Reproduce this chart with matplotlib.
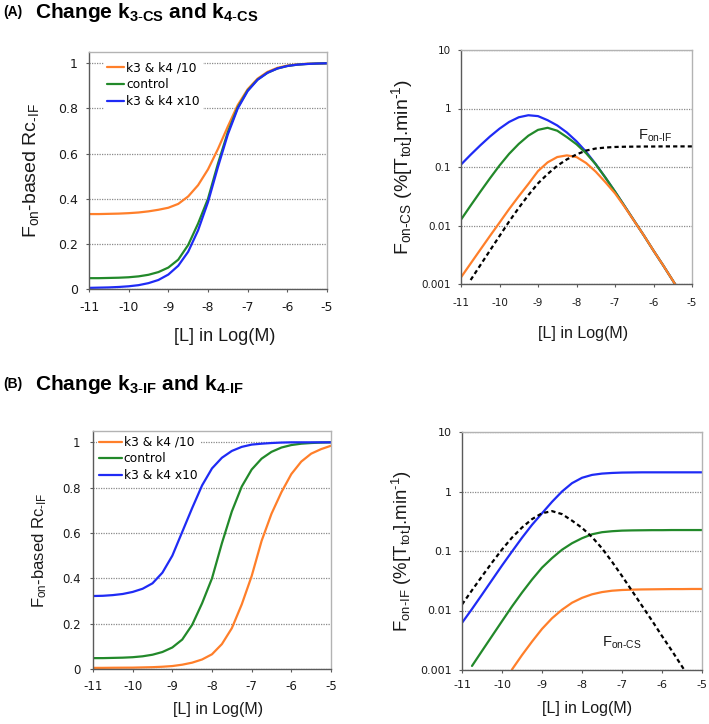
import matplotlib
matplotlib.use('Agg')
import matplotlib.pyplot as plt

plt.rcParams['axes.unicode_minus'] = False
plt.rcParams['mathtext.fontset'] = 'custom'
plt.rcParams['mathtext.rm'] = 'Liberation Sans'
plt.rcParams['mathtext.it'] = 'Liberation Sans:italic'
plt.rcParams['mathtext.bf'] = 'Liberation Sans:bold'
plt.rcParams['mathtext.sf'] = 'Liberation Sans'

# ---------------- data ----------------
log_L = [-11, -10.75, -10.5, -10.25, -10, -9.75, -9.5, -9.25, -9, -8.75, -8.5, -8.25,
         -8, -7.75, -7.5, -7.25, -7, -6.75, -6.5, -6.25, -6, -5.75, -5.5, -5.25, -5]

# Panel A left : Fon-based Rc-IF, changing k3/k4 of CS
rcA_div10 = [0.332, 0.332, 0.333, 0.334, 0.336, 0.339, 0.344, 0.351, 0.36, 0.377, 0.41, 0.46,
             0.53, 0.62, 0.72, 0.815, 0.885, 0.932, 0.962, 0.98, 0.99, 0.995, 0.998, 0.999, 1.0]
rc_control = [0.048, 0.048, 0.049, 0.05, 0.052, 0.056, 0.063, 0.075, 0.095, 0.13, 0.195, 0.29,
              0.40, 0.555, 0.695, 0.805, 0.88, 0.928, 0.958, 0.977, 0.988, 0.994, 0.997, 0.999, 1.0]
rcA_x10 = [0.005, 0.006, 0.007, 0.009, 0.012, 0.017, 0.026, 0.04, 0.064, 0.103, 0.165, 0.26,
           0.385, 0.54, 0.685, 0.8, 0.877, 0.927, 0.958, 0.977, 0.988, 0.994, 0.997, 0.999, 1.0]

# Panel A right : Fon-CS (%[Ttot].min-1)
csA_div10 = [0.0013, 0.00224, 0.00385, 0.0066, 0.0112, 0.0191, 0.0316, 0.0513, 0.0851, 0.120,
             0.148, 0.158, 0.148, 0.117, 0.0832, 0.055, 0.0355, 0.0209, 0.0119, 0.00676,
             0.00372, 0.00209, 0.00115, 0.00063, 0.00035]
cs_control = [0.0126, 0.0219, 0.0376, 0.0638, 0.106, 0.168, 0.248, 0.343, 0.431, 0.468,
              0.417, 0.324, 0.245, 0.172, 0.111, 0.066, 0.038, 0.0214, 0.0120, 0.00676,
              0.00372, 0.00209, 0.00115, 0.00063, 0.00035]
csA_x10 = [0.110, 0.162, 0.234, 0.331, 0.452, 0.589, 0.708, 0.767, 0.741, 0.631, 0.513, 0.389,
           0.275, 0.182, 0.112, 0.066, 0.038, 0.0214, 0.0120, 0.00676, 0.00372, 0.00209,
           0.00115, 0.00063, 0.00035]
# Fon-IF control (dashed in A, green in B)
log_L_if = log_L[1:]
if_control = [0.00117, 0.00209, 0.00372, 0.00661, 0.0117, 0.020, 0.0331, 0.0525, 0.0759, 0.105,
              0.135, 0.164, 0.191, 0.207, 0.215, 0.220, 0.222, 0.223, 0.224, 0.224, 0.225,
              0.225, 0.225, 0.225]

# Panel B left : Fon-based Rc-IF, changing k3/k4 of IF
rcB_div10 = [0.005, 0.005, 0.0055, 0.0058, 0.006, 0.007, 0.008, 0.01, 0.013, 0.019, 0.028, 0.042,
             0.065, 0.11, 0.18, 0.285, 0.41, 0.565, 0.685, 0.78, 0.86, 0.915, 0.95, 0.97, 0.985]
rcB_x10 = [0.322, 0.323, 0.326, 0.331, 0.34, 0.354, 0.378, 0.425, 0.5, 0.605, 0.71, 0.81,
           0.885, 0.932, 0.962, 0.98, 0.99, 0.994, 0.997, 0.999, 1.0, 1.0, 1.0, 1.0, 1.0]

# Panel B right : Fon-IF
log_L_ifB_div10 = log_L[5:]
ifB_div10 = [0.00102, 0.00178, 0.0030, 0.0049, 0.0074, 0.0103, 0.0135, 0.0163, 0.0187, 0.0204,
             0.0215, 0.0221, 0.0224, 0.0226, 0.0227, 0.0228, 0.0229, 0.0229, 0.023, 0.023]
ifB_x10 = [0.0062, 0.0106, 0.0185, 0.0325, 0.057, 0.098, 0.167, 0.275, 0.43, 0.67, 1.0, 1.38,
           1.70, 1.90, 2.0, 2.05, 2.08, 2.09, 2.1, 2.1, 2.1, 2.1, 2.1, 2.1, 2.1]

legend_labels = ['k3 & k4 /10', 'control', 'k3 & k4 x10']
xticks = [-11, -10, -9, -8, -7, -6, -5]
lin_ticks = [0, 0.2, 0.4, 0.6, 0.8, 1]
lin_labels = ['0', '0.2', '0.4', '0.6', '0.8', '1']
log_ticks = [0.001, 0.01, 0.1, 1, 10]
log_labels = ['0.001', '0.01', '0.1', '1', '10']

C_OR = '#ff7f2a'
C_GR = '#22892a'
C_BL = '#1f2bf5'
LW = 1.6
DASH = (0, (1.9, 1.4))

W, H = 709, 724
fig = plt.figure(figsize=(W / 100, H / 100), dpi=100)


def add_ax(x0, x1, ytop, ybot):
    return fig.add_axes([x0 / W, 1 - ybot / H, (x1 - x0) / W, (ybot - ytop) / H])


def style(ax, tfs, xpad, ypad):
    for s in ['top', 'right']:
        ax.spines[s].set_color('#b3b3b3')
        ax.spines[s].set_linewidth(1.0)
    for s in ['left', 'bottom']:
        ax.spines[s].set_color('#5a5a5a')
        ax.spines[s].set_linewidth(1.0)
    ax.tick_params(axis='both', which='major', direction='out', length=2.5, width=0.8,
                   color='#5a5a5a', labelsize=tfs, labelcolor='#1a1a1a')
    ax.tick_params(axis='x', pad=xpad)
    ax.tick_params(axis='y', pad=ypad)
    ax.tick_params(which='minor', length=0)
    ax.yaxis.grid(True, linestyle=(0, (1, 1)), color='#8a8a8a', linewidth=0.9)
    ax.set_axisbelow(True)
    ax.set_xlim(-11, -5)
    ax.set_xticks(xticks)
    ax.set_xticklabels([str(t) for t in xticks])


def lin_axis(ax):
    ax.set_ylim(0, 1.05)
    ax.set_yticks(lin_ticks)
    ax.set_yticklabels(lin_labels)


def log_axis(ax):
    ax.set_yscale('log')
    ax.set_ylim(0.001, 10)
    ax.set_yticks(log_ticks)
    ax.set_yticklabels(log_labels)
    ax.yaxis.set_minor_locator(matplotlib.ticker.NullLocator())


def xlabel(ax, fs, xc, yc):
    ax.set_xlabel('[L] in Log(M)', fontsize=fs, family='Liberation Sans', color='#1a1a1a')
    ax.xaxis.label.set_va('center')
    ax.xaxis.set_label_coords(xc, yc)


def ylabel(ax, text, fs, xc):
    ax.set_ylabel(text, fontsize=fs, family='Liberation Sans', color='#1a1a1a')
    ax.yaxis.label.set_va('center')
    ax.yaxis.set_label_coords(xc, 0.5)


def legend(ax, anchor, hl, tp):
    ax.legend(loc='upper left', bbox_to_anchor=anchor, borderaxespad=0, borderpad=0.2,
              handlelength=hl, handletextpad=tp, labelspacing=0.3, frameon=True,
              facecolor='white', edgecolor='none', framealpha=1, fancybox=False,
              prop={'size': 8.8})


def curve(ax, x, y, **kw):
    ax.plot(x, y, solid_joinstyle='round', solid_capstyle='round', **kw)


# ---------- A left ----------
ax1 = add_ax(89, 327, 52, 289)
curve(ax1, log_L, rcA_div10, color=C_OR, lw=LW, label=legend_labels[0])
curve(ax1, log_L, rc_control, color=C_GR, lw=LW, label=legend_labels[1])
curve(ax1, log_L, rcA_x10, color=C_BL, lw=LW, label=legend_labels[2])
style(ax1, 9, 6.5, 5.5)
lin_axis(ax1)
legend(ax1, (0.065, 0.97), 1.4, 0.2)
xlabel(ax1, 13, 0.57, -0.2)
ylabel(ax1, r'F$_{\rm on}$-based Rc$_{\rm \text{-}IF}$', 14, -0.245)

# ---------- A right ----------
ax2 = add_ax(461, 692, 50, 284)
curve(ax2, log_L, csA_x10, color=C_BL, lw=LW)
curve(ax2, log_L, cs_control, color=C_GR, lw=LW)
curve(ax2, log_L, csA_div10, color=C_OR, lw=LW)
ax2.plot(log_L_if, if_control, color='black', lw=LW, linestyle=DASH)
style(ax2, 7.5, 7.5, 4.5)
log_axis(ax2)
ax2.text(-6.4, 0.29, r'F$_{\rm on\text{-}IF}$', fontsize=10.5, family='Liberation Sans',
         va='baseline', ha='left', color='#1a1a1a')
xlabel(ax2, 11.5, 0.53, -0.21)
ylabel(ax2, r'F$_{\rm on\text{-}CS}$ (%[T$_{\rm tot}$].min$^{\rm \text{-}1}$)', 14, -0.255)

# ---------- B left ----------
ax3 = add_ax(93, 331, 431, 669)
curve(ax3, log_L, rcB_div10, color=C_OR, lw=LW, label=legend_labels[0])
curve(ax3, log_L, rc_control, color=C_GR, lw=LW, label=legend_labels[1])
curve(ax3, log_L, rcB_x10, color=C_BL, lw=LW, label=legend_labels[2])
style(ax3, 8.5, 5.5, 6.5)
lin_axis(ax3)
legend(ax3, (0.015, 0.99), 1.9, 0.12)
xlabel(ax3, 11.5, 0.525, -0.172)
ylabel(ax3, r'F$_{\rm on}$-based Rc$_{\rm \text{-}IF}$', 12, -0.223)

# ---------- B right ----------
ax4 = add_ax(462, 702, 432, 670)
curve(ax4, log_L, ifB_x10, color=C_BL, lw=LW)
curve(ax4, log_L_if, if_control, color=C_GR, lw=LW)
curve(ax4, log_L_ifB_div10, ifB_div10, color=C_OR, lw=LW)
ax4.plot(log_L, cs_control, color='black', lw=LW, linestyle=DASH)
style(ax4, 8, 5, 4.5)
log_axis(ax4)
ax4.text(-7.5, 0.0025, r'F$_{\rm on\text{-}CS}$', fontsize=10.5, family='Liberation Sans',
         va='baseline', ha='left', color='#1a1a1a')
xlabel(ax4, 11.5, 0.52, -0.16)
ylabel(ax4, r'F$_{\rm on\text{-}IF}$ (%[T$_{\rm tot}$].min$^{\rm \text{-}1}$)', 13.4, -0.25)

# ---------- panel titles ----------
fig.text(3 / W, 1 - 16 / H, '(A)', fontsize=10, fontweight='bold', family='Liberation Sans',
         va='baseline')
fig.text(35 / W, 1 - 18 / H, r'Change k$_{\mathbf{3\text{-}CS}}$ and k$_{\mathbf{4\text{-}CS}}$',
         fontsize=15, fontweight='bold', family='Liberation Sans', va='baseline')
fig.text(3 / W, 1 - 388 / H, '(B)', fontsize=10, fontweight='bold', family='Liberation Sans',
         va='baseline')
fig.text(35 / W, 1 - 390 / H, r'Change k$_{\mathbf{3\text{-}IF}}$ and k$_{\mathbf{4\text{-}IF}}$',
         fontsize=15, fontweight='bold', family='Liberation Sans', va='baseline')

fig.savefig('out.png', dpi=100)
